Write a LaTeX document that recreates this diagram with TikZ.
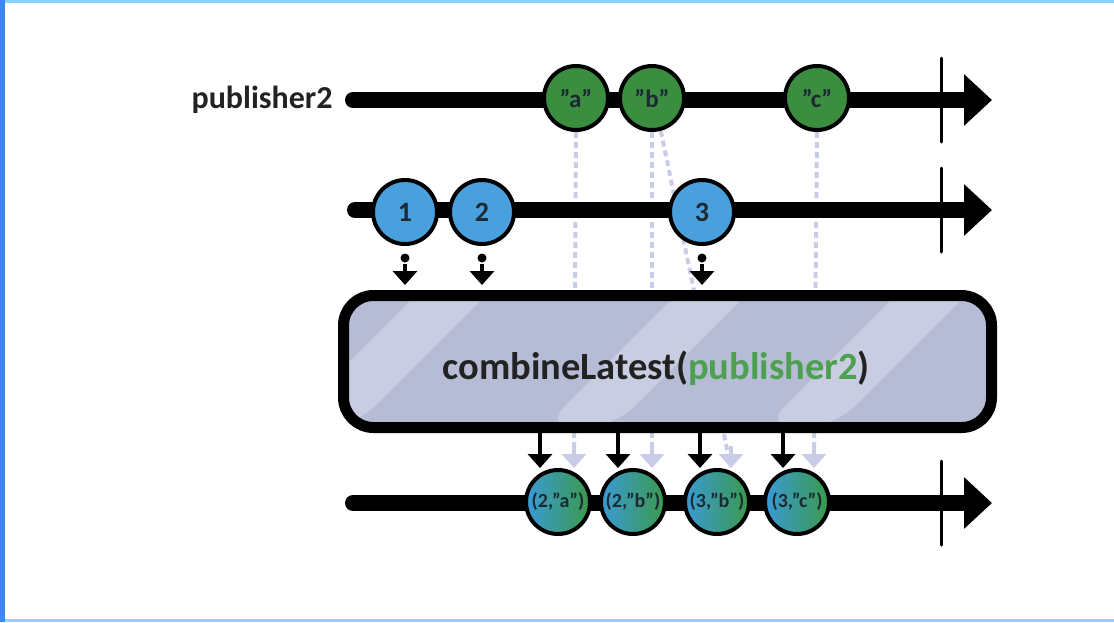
\documentclass[tikz,border=0pt]{standalone}
\usepackage{fontspec}
\setmainfont{Carlito}
\usetikzlibrary{arrows.meta,positioning,backgrounds}
\definecolor{pubgreen}{HTML}{3B8E3F}
\definecolor{srcblue}{HTML}{4AA0DC}
\definecolor{opfill}{HTML}{B6BCD6}
\definecolor{opstripe}{HTML}{C9CDE2}
\definecolor{tracecol}{HTML}{C9CCE7}
\definecolor{framebar}{HTML}{3C88F0}
\definecolor{frameline}{HTML}{86D4FF}
\definecolor{mixblue}{HTML}{3A9AD6}
\definecolor{mixgreen}{HTML}{3A9A4A}
\definecolor{textgreen}{HTML}{4CA050}
\definecolor{balltext}{HTML}{1C2A33}
\definecolor{labeltext}{HTML}{222222}
\tikzset{
  timeline/.style={line width=16pt, line cap=round, -{Triangle[length=28pt,width=50pt]}},
  endtick/.style={line width=3pt, line cap=round},
  ball/.style={circle, draw, line width=4pt, minimum size=64pt, inner sep=0pt, text=balltext},
  greenball/.style={ball, fill=pubgreen, font=\fontsize{25}{25}\selectfont\bfseries},
  blueball/.style={ball, fill=srcblue, font=\fontsize{28}{28}\selectfont\bfseries},
  mixball/.style={ball, left color=mixblue, right color=mixgreen, font=\fontsize{20}{20}\selectfont\bfseries},
  emit/.style={line width=4pt, -{Triangle[length=14pt,width=24pt]}},
  traceline/.style={draw=tracecol, line width=4pt, dash pattern=on 6pt off 4pt},
  traceend/.style={draw=tracecol, fill=tracecol, line width=4pt, -{Triangle[length=14pt,width=24pt]}},
  operator/.style={draw, line width=11pt, rounded corners=30pt, fill=opfill,
    minimum width=648pt, minimum height=132pt, inner sep=0pt,
    path picture={
      \foreach \s in {-60,200,420,660} {
        \fill[opstripe] ([xshift=\s pt]path picture bounding box.south west)
          -- ++(150,-150) -- ++(70,0) -- ++(-150,150) -- cycle;
      }
    }},
}
\begin{document}
\begin{tikzpicture}[x=1pt,y=-1pt]
  % Frame of the screenshot
  \useasboundingbox (0,0) rectangle (1114,622);
  \fill[framebar] (0,0) rectangle (5,622);
  \fill[frameline] (5,0) rectangle (1114,2.5);
  \fill[frameline] (5,619) rectangle (1114,622);

  % Ends of the three timelines
  \coordinate (topstart) at (353,100);
  \coordinate (topend) at (992,100);
  \coordinate (midstart) at (355,210);
  \coordinate (midend) at (992,210);
  \coordinate (outstart) at (353,503);
  \coordinate (outend) at (992,503);

  % Draw the timelines
  \draw[timeline] (topstart) -- (topend);
  \draw[timeline] (midstart) -- (midend);
  \draw[timeline] (outstart) -- (outend);
  \foreach \y in {100,210,503} {
    \draw[endtick] (941,\y-42) -- (941,\y+42);
  }

  % Label of the upper timeline
  \node[anchor=east, text=labeltext, font=\fontsize{32}{32}\selectfont\bfseries] (pubname) at (336,100) {publisher2};

  % Values of publisher2
  \foreach \x/\lab/\nm in {576/"a"/ga, 652/"b"/gb, 817/"c"/gc} {
    \node[greenball] (\nm) at (\x,98) {\lab};
  }

  % Values of the source
  \foreach \x/\lab/\nm in {405/1/s1, 482/2/s2, 702/3/s3} {
    \node[blueball] (\nm) at (\x,212) {\lab};
    \fill (\x,258) circle [radius=4.5pt];
    \coordinate (\nm in) at (\x,285);
    \draw[emit] (\x,264) -- (\nm in);
  }

  % The operator
  \node[operator] (op) at (667.5,361.5) {};
  \node[text=labeltext, font=\fontsize{38.5}{38.5}\selectfont\bfseries] (oplabel) at (656,368)
    {combineLatest(\textcolor{textgreen}{publisher2})};

  % Output of the operator
  \foreach \x/\ox/\lab/\nm in {540/558/{(2,"a")}/o1, 618/633/{(2,"b")}/o2, 700/717/{(3,"b")}/o3, 783/797/{(3,"c")}/o4} {
    \coordinate (\nm in) at (\x,468);
    \draw[emit] (op.south -| \nm in) -- (\nm in);
    \node[mixball] (\nm) at (\ox,502) {\lab};
  }

  % Free ends of the traces
  \coordinate (ta) at (574,468);
  \coordinate (tb) at (652,468);
  \coordinate (tbb) at (731,468);
  \coordinate (tc) at (814,468);

  % Traces go behind everything
  \begin{pgfonlayer}{background}
    \draw[traceline] (ga.south) -- ([yshift=14pt]ta);
    \draw[traceline] (gb.south) -- ([yshift=14pt]tb);
    \draw[traceline] (gb.-75) -- ([xshift=-3pt,yshift=14pt]tbb);
    \draw[traceline] (gc.south) -- ([yshift=14pt]tc);
    \foreach \t in {ta,tb,tbb,tc} {
      \draw[traceend] ([yshift=22pt]\t) -- (\t);
    }
  \end{pgfonlayer}
\end{tikzpicture}
\end{document}
